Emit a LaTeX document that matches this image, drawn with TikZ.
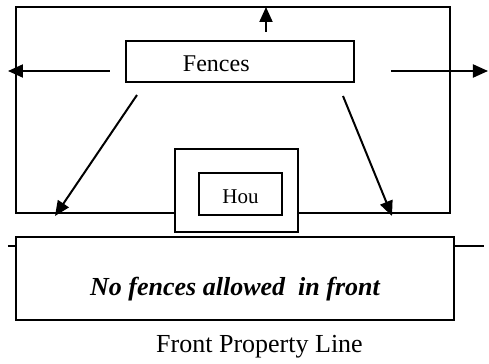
\documentclass[tikz,border=0pt]{standalone}
\usepackage{fontspec}
\setmainfont{Liberation Serif}
\usetikzlibrary{positioning,arrows.meta}

\begin{document}
\begin{tikzpicture}[
  x=0.5pt,y=-0.5pt,
  line width=1pt,
  every node/.style={inner sep=0pt,outer sep=0pt},
  plot/.style={draw,rectangle,minimum width=#1},
  fencebox/.style={plot=114pt,minimum height=20.5pt,text width=57pt,inner xsep=28.5pt,align=left,text height=10pt,text depth=0pt,font=\fontsize{12}{14}\selectfont},
  housebox/.style={draw,rectangle,fill=white,minimum width=61.5pt,minimum height=41.5pt},
  roombox/.style={draw,rectangle,minimum width=41.5pt,minimum height=21pt,text height=10pt,text depth=0pt,font=\fontsize{10.5}{12}\selectfont},
  frontbox/.style={plot=219pt,minimum height=41.5pt,text height=17.5pt,text depth=0pt,font=\fontsize{13}{15}\selectfont\bfseries\itshape},
  push/.style={-{Triangle[length=7.5pt,width=6.5pt]}},
]
\useasboundingbox (0,0) rectangle (489,364);

\node (lot) [plot=217pt,minimum height=103pt] at (233,110) {};
\node (fences) [fencebox] at (240,61.5) {Fences};
\node (house) [housebox] at (236.5,190.5) {};
\node (hou) [roombox] at (240.5,194) {Hou};
\node (front) [frontbox] at (235,278.5) {No fences allowed~ in front};
\node (line) [anchor=base,font=\fontsize{13}{15}\selectfont] at (259.5,353) {Front Property Line};

% property line either side
\coordinate (pl) at (8,246);
\coordinate (pr) at (484,246);
\draw (pl) -- (pl -| front.west);
\draw (pr) -- (pr -| front.east);

% arrows out of the fence box
\coordinate (up0) at (266,32);
\coordinate (left0) at (110,71);
\coordinate (left1) at (8,71);
\coordinate (right0) at (391,71);
\coordinate (right1) at (488,71);
\coordinate (dl0) at (137,95);
\coordinate (dl1) at (55,216);
\coordinate (dr0) at (343,96);
\coordinate (dr1) at (392,216);
\draw[push] (up0) -- (up0 |- lot.north);
\draw[push] (left0) -- (left1);
\draw[push] (right0) -- (right1);
\draw[push] (dl0) -- (dl1);
\draw[push] (dr0) -- (dr1);
\end{tikzpicture}
\end{document}
